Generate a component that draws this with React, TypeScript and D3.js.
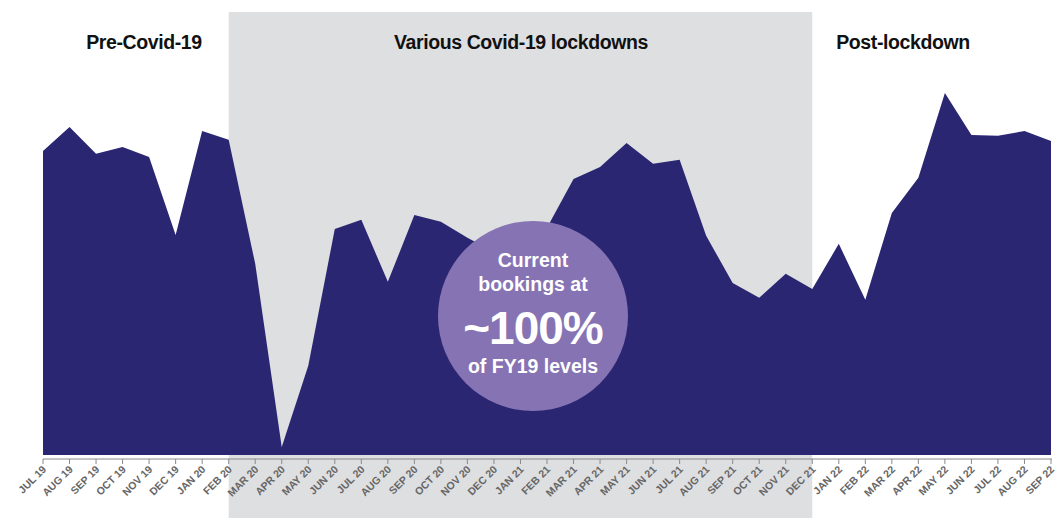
import React from "react";
import * as d3 from "d3";

const months = [
  "JUL 19","AUG 19","SEP 19","OCT 19","NOV 19","DEC 19",
  "JAN 20","FEB 20","MAR 20","APR 20","MAY 20","JUN 20","JUL 20","AUG 20","SEP 20","OCT 20","NOV 20","DEC 20",
  "JAN 21","FEB 21","MAR 21","APR 21","MAY 21","JUN 21","JUL 21","AUG 21","SEP 21","OCT 21","NOV 21","DEC 21",
  "JAN 22","FEB 22","MAR 22","APR 22","MAY 22","JUN 22","JUL 22","AUG 22","SEP 22",
];

// bookings index (relative level, no axis shown in the original)
const bookings = [
  76, 82, 75.3, 77, 74.5, 55,
  81, 78.8, 47.8, 2, 22.3, 56.5, 58.8, 43.3, 60, 58.3, 54.3, 50.8,
  52, 56.8, 69, 72, 78, 72.8, 73.8, 54.8, 43, 39.3, 45.3, 41.5,
  52.8, 38.8, 60.5, 69.3, 90.5, 80, 79.8, 81, 78.5,
];

const periods = [
  { label: "Pre-Covid-19", from: null as string | null, to: "FEB 20", shaded: false, cx: 144 },
  { label: "Various Covid-19 lockdowns", from: "FEB 20", to: "DEC 21", shaded: true, cx: 521 },
  { label: "Post-lockdown", from: "DEC 21", to: null as string | null, shaded: false, cx: 903 },
];

const W = 1061;
const H = 518;

export default function App() {
  const x = d3.scalePoint<string>().domain(months).range([43, 1051]);
  const y = d3.scaleLinear().domain([0, 110]).range([455, 15]);
  const baseY = y(0);

  const area = d3
    .area<number>()
    .x((_, i) => x(months[i]) as number)
    .y0(baseY)
    .y1((d) => y(d))
    .curve(d3.curveLinear);

  const shade = periods.find((p) => p.shaded)!;
  const sx0 = x(shade.from as string) as number;
  const sx1 = x(shade.to as string) as number;

  const font = "'Liberation Sans', Arial, Helvetica, sans-serif";

  return (
    <svg
      width={W}
      height={H}
      style={{ position: "absolute", left: 0, top: 0, background: "#fff" }}
      fontFamily={font}
    >
      <rect x={sx0} y={12} width={sx1 - sx0} height={H - 12} fill="#dedfe1" />
      {periods.map((p) => (
        <text
          key={p.label}
          x={p.cx}
          y={49}
          textAnchor="middle"
          fontSize={19.5}
          fontWeight="bold"
          letterSpacing={-0.4}
          fill="#111"
        >
          {p.label}
        </text>
      ))}
      <path d={area(bookings) || ""} fill="#2b2672" />
      <line x1={43} x2={1052} y1={459} y2={459} stroke="#8a8a8a" strokeWidth={1} />
      {months.map((m) => {
        const px = x(m) as number;
        return (
          <g key={m}>
            <line x1={px} x2={px} y1={459} y2={464} stroke="#8a8a8a" strokeWidth={1} />
            <text
              transform={`translate(${px + 4},${470}) rotate(-45)`}
              textAnchor="end"
              fontSize={10.5}
              fontWeight="bold"
              fill="#666"
            >
              {m}
            </text>
          </g>
        );
      })}
      <circle cx={533} cy={316} r={95} fill="#8673b4" />
      <g fill="#fff" fontWeight="bold" textAnchor="middle">
        <text x={533} y={267} fontSize={19.5}>Current</text>
        <text x={533} y={291} fontSize={19.5}>bookings at</text>
        <text x={533} y={344} fontSize={46} letterSpacing={-1}>~100%</text>
        <text x={533} y={373} fontSize={19.5}>of FY19 levels</text>
      </g>
    </svg>
  );
}
